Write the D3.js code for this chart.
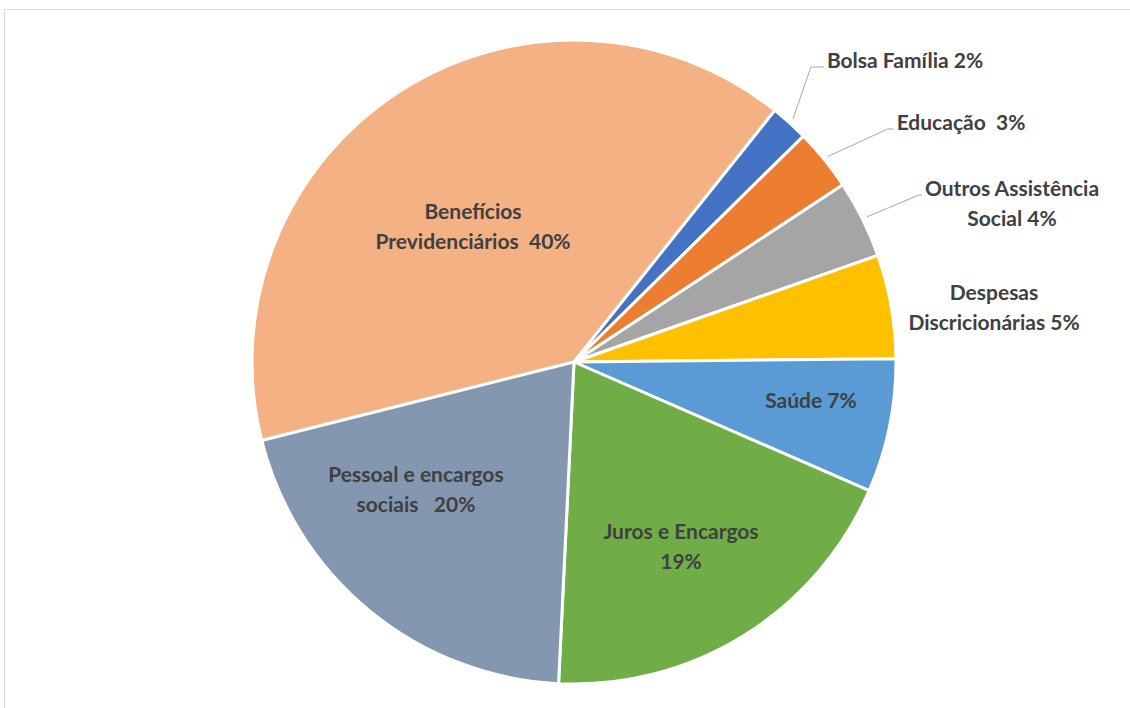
<!DOCTYPE html>
<html>
<head>
<meta charset="utf-8">
<script src="https://cdn.jsdelivr.net/npm/d3@7"></script>
<style>
  body { margin: 0; background: #fff; }
  .slice-label { font-family: Lato, "DejaVu Sans", sans-serif; font-weight: bold; fill: #404040; }
  .leader { fill: none; stroke: #a6a6a6; stroke-width: 1; }
</style>
</head>
<body>
<svg id="chart" width="1130" height="708"></svg>
<script>

////////////////////////// DATA //////////////////////////

// order follows the pie, clockwise from Benefícios
const categories = [
  'Benefícios Previdenciários', 'Bolsa Família', 'Educação', 'Outros Assistência Social',
  'Despesas Discricionárias', 'Saúde', 'Juros e Encargos', 'Pessoal e encargos sociais'
]
const shares = [39.6, 1.9, 3.1, 3.9, 5.2, 6.7, 19.2, 20.3]
const labelLines = [
  ['Benefícios', 'Previdenciários  40%'],
  ['Bolsa Família 2%'],
  ['Educação  3%'],
  ['Outros Assistência', 'Social 4%'],
  ['Despesas', 'Discricionárias 5%'],
  ['Saúde 7%'],
  ['Juros e Encargos', '19%'],
  ['Pessoal e encargos', 'sociais   20%']
]
const colors = ['#f4b183', '#4472c4', '#ed7d31', '#a5a5a5', '#ffc000', '#5b9bd5', '#70ad47', '#8497b0']


////////////////////////// SETUP //////////////////////////

const svg = d3.select('#chart')
const cx = 574, cy = 362, radius = 322
const lineGap = 30
const fontSize = 21

// label anchors: offset of first baseline centre from the pie centre, and leader elbow length
const labelLayout = [
  { dx: -101, dy: -143 },
  { dx: 331, dy: -294, leader: 13 },
  { dx: 387, dy: -232, leader: 6 },
  { dx: 438, dy: -166, leader: 3 },
  { dx: 420, dy: -62 },
  { dx: 237, dy: 46 },
  { dx: 107, dy: 177 },
  { dx: -158, dy: 120 }
]

const startDeg = 255.9
const pie = d3.pie()
  .sort(null)
  .value((d) => d.value)
  .startAngle(startDeg * Math.PI / 180)
  .endAngle((startDeg + 360) * Math.PI / 180)

const arc = d3.arc().innerRadius(0).outerRadius(radius)

const data = categories.map((c, i) => ({ name: c, value: shares[i], lines: labelLines[i], color: colors[i], layout: labelLayout[i] }))
const arcs = pie(data)

// thin frame as in the original screenshot
svg.append('rect')
  .attr('x', 4.5).attr('y', 9.5)
  .attr('width', 1140).attr('height', 720)
  .attr('fill', 'none')
  .attr('stroke', '#dcdcdc')


////////////////////////// SLICES //////////////////////////

const g = svg.append('g').attr('transform', `translate(${cx},${cy})`)

g.selectAll('path.slice')
  .data(arcs)
  .enter()
  .append('path')
  .attr('class', 'slice')
  .attr('d', arc)
  .style('fill', (d) => d.data.color)
  .style('stroke', '#fff')
  .style('stroke-width', 3)
  .style('stroke-linejoin', 'round')


////////////////////////// LABELS //////////////////////////

const labels = g.selectAll('text.slice-label')
  .data(arcs)
  .enter()
  .append('text')
  .attr('class', 'slice-label')
  .attr('text-anchor', 'middle')
  .style('font-size', fontSize + 'px')
  .attr('x', (d) => d.data.layout.dx)
  .attr('y', (d) => d.data.layout.dy)

labels.selectAll('tspan')
  .data((d) => d.data.lines.map((t) => ({ t, x: d.data.layout.dx })))
  .enter()
  .append('tspan')
  .attr('x', (d) => d.x)
  .attr('dy', (d, i) => i === 0 ? 0 : lineGap)
  .style('white-space', 'pre')
  .text((d) => d.t)

// leader lines for the small outside slices
labels.each(function (d) {
  if (!d.data.layout.leader) return
  const firstLine = d3.select(this).select('tspan').node()
  const w = firstLine.getComputedTextLength()
  const left = d.data.layout.dx - w / 2 - 3
  const mid = (d.startAngle + d.endAngle) / 2
  const r0 = radius + 5
  const y = d.data.layout.dy - 1
  g.append('polyline')
    .attr('class', 'leader')
    .attr('points', [
      [r0 * Math.sin(mid), -r0 * Math.cos(mid)],
      [left - d.data.layout.leader, y],
      [left, y]
    ].join(' '))
})

</script>
</body>
</html>
